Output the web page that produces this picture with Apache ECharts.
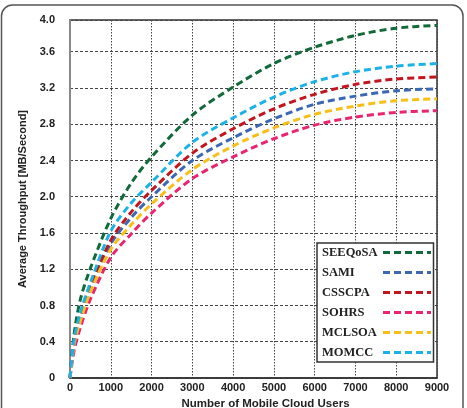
<!DOCTYPE html>
<html>
<head>
<meta charset="utf-8">
<script src="https://cdn.jsdelivr.net/npm/echarts@6/dist/echarts.min.js"></script>
<style>
  html, body { margin: 0; padding: 0; background: #fff; }
  #chart { width: 467px; height: 408px; }
</style>
</head>
<body>
<div id="chart"></div>
<script>
// users on the x axis
const users = [0, 100, 250, 500, 1000, 1500, 2000, 3000, 4000, 5000, 6000, 7000, 8000, 9000];

const seeqosa = [0, 0.48, 0.86, 1.21, 1.76, 2.15, 2.44, 2.90, 3.21, 3.47, 3.65, 3.78, 3.86, 3.89];
const sami    = [0, 0.40, 0.67, 0.99, 1.48, 1.77, 2.00, 2.40, 2.65, 2.86, 3.02, 3.11, 3.17, 3.19];
const csscpa  = [0, 0.40, 0.68, 1.01, 1.52, 1.83, 2.07, 2.48, 2.75, 2.97, 3.13, 3.24, 3.30, 3.32];
const sohrs   = [0, 0.30, 0.55, 0.87, 1.33, 1.59, 1.82, 2.20, 2.44, 2.64, 2.79, 2.88, 2.93, 2.95];
const mclsoa  = [0, 0.37, 0.62, 0.95, 1.42, 1.69, 1.92, 2.30, 2.56, 2.76, 2.91, 3.00, 3.06, 3.08];
const momcc   = [0, 0.42, 0.72, 1.05, 1.62, 1.93, 2.16, 2.60, 2.87, 3.10, 3.27, 3.38, 3.44, 3.47];

const seriesNames = ['SEEQoSA', 'SAMI', 'CSSCPA', 'SOHRS', 'MCLSOA', 'MOMCC'];
const seriesData = [seeqosa, sami, csscpa, sohrs, mclsoa, momcc];
const colors = ['#12693a', '#3c68b3', '#c2161e', '#ea2470', '#f8bf18', '#1cb2e8'];

const chart = echarts.init(document.getElementById('chart'));

function pairs(vals) {
    return users.map((u, i) => [u, vals[i]]);
}

const option = {
    animation: false,
    graphic: [
        {
            type: 'rect',
            shape: { x: 1.5, y: 5, width: 461.5, height: 430, r: 11 },
            style: { fill: 'none', stroke: '#555', lineWidth: 1.5 },
            z: 0,
        },
    ],
    grid: {
        left: 70,
        right: 30,
        top: 20,
        bottom: 30,
        outerBoundsMode: 'none',
        show: true,
        borderColor: '#333',
        borderWidth: 1.5,
    },
    legend: {
        orient: 'vertical',
        left: 317,
        top: 243,
        align: 'right',
        padding: [3, 1, 3, 5],
        itemWidth: 48,
        itemHeight: 12,
        itemGap: 7,
        backgroundColor: '#fff',
        borderColor: '#333',
        borderWidth: 1.5,
        borderRadius: 0,
        data: seriesNames,
        itemStyle: { opacity: 0 },
        lineStyle: { width: 3 },
        formatter: '{t|{name}}',
        textStyle: {
            rich: {
                t: {
                    width: 56,
                    align: 'left',
                    fontFamily: 'Liberation Serif',
                    fontWeight: 'bold',
                    fontSize: 12.5,
                    color: '#222',
                },
            },
        },
    },
    xAxis: {
        type: 'value',
        min: 0,
        max: 9000,
        interval: 1000,
        name: 'Number of Mobile Cloud Users',
        nameLocation: 'middle',
        nameGap: 17,
        nameTextStyle: {
            fontFamily: 'Liberation Sans',
            fontWeight: 'bold',
            fontSize: 11.5,
            color: '#222',
            padding: [0, 0, 0, 24],
        },
        axisLine: { lineStyle: { color: '#333', width: 1.5 } },
        axisTick: { show: false },
        axisLabel: {
            margin: 4,
            fontFamily: 'Liberation Sans',
            fontWeight: 'bold',
            fontSize: 11,
            color: '#222',
            formatter: (v) => String(v),
        },
        splitLine: { lineStyle: { color: '#444', type: [1.5, 1.5], width: 1 } },
    },
    yAxis: {
        type: 'value',
        min: 0,
        max: 3.95,
        interval: 0.4,
        name: 'Average Throughput [MB/Second]',
        nameLocation: 'middle',
        nameGap: 35,
        nameTextStyle: {
            fontFamily: 'Liberation Sans',
            fontWeight: 'bold',
            fontSize: 11,
            color: '#222',
        },
        axisLine: { show: true, lineStyle: { color: '#888', width: 2 } },
        axisTick: { show: false },
        axisLabel: {
            margin: 15,
            showMaxLabel: true,
            fontFamily: 'Liberation Sans',
            fontWeight: 'bold',
            fontSize: 11,
            color: '#222',
            formatter: (v) => (v === 0 ? '0' : v > 3.9 ? '4.0' : v.toFixed(1)),
        },
        splitLine: { lineStyle: { color: '#444', type: [3, 2], width: 1 } },
    },
    series: seriesNames.map((name, i) => ({
        name: name,
        type: 'line',
        data: pairs(seriesData[i]),
        smooth: 0.3,
        symbol: 'none',
        color: colors[i],
        lineStyle: { width: 3, type: [7, 4], color: colors[i] },
    })),
};

chart.setOption(option);
</script>
</body>
</html>
